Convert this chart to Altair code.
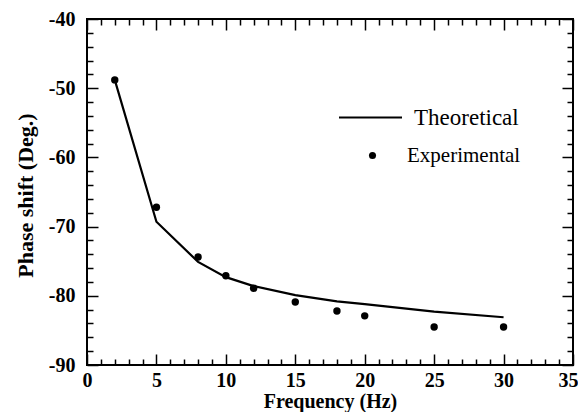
import altair as alt
import pandas as pd

# Data
freq_theo = [2, 5, 8, 10, 12, 15, 18, 20, 25, 30]
phase_theo = [-48.8, -69.3, -75.1, -77.3, -78.6, -79.9, -80.8, -81.2, -82.3, -83.1]
freq_exp = [2, 5, 8, 10, 12, 15, 18, 20, 25, 30]
phase_exp = [-48.8, -67.2, -74.4, -77.1, -78.9, -80.9, -82.2, -82.9, -84.5, -84.5]
series_names = ["Theoretical", "Experimental"]

x_ticks = list(range(0, 36))          # minor every 1, major every 5
y_ticks = list(range(-90, -39, 2))    # minor every 2, major every 10

theo = pd.DataFrame({"f": freq_theo, "p": phase_theo, "series": series_names[0]})
exp = pd.DataFrame({"f": freq_exp, "p": phase_exp, "series": series_names[1]})

FONT = "Liberation Serif"
xscale = alt.Scale(domain=[0, 35], nice=False)
yscale = alt.Scale(domain=[-90, -40], nice=False)

x_major = "datum.value % 5 === 0"
y_major = "datum.value % 10 === 0"


def tsize(test):
    return {"condition": {"test": test, "value": -11}, "value": -6}


common = dict(
    domain=False,
    grid=False,
    tickColor="black",
    tickWidth=1.5,
    labelFont=FONT,
    labelFontSize=20,
    labelFontWeight="bold",
    labelColor="black",
    labelFlush=False,
    labelOverlap=False,
    titleFont=FONT,
    titleFontSize=21,
    titleFontWeight="bold",
    titleColor="black",
)

bottom_common = dict(common)
bottom_common["titleFontSize"] = 20
bottom_axis = alt.Axis(
    orient="bottom", values=x_ticks, tickSize=tsize(x_major),
    labelExpr=f"{x_major} ? ('' + datum.value) : ''", labelPadding=16,
    labelOffset={"condition": {"test": "datum.value === 35", "value": -5}, "value": 0},
    title="Frequency (Hz)", titleX=243, titleY=42, titleBaseline="alphabetic",
    **bottom_common,
)
top_axis = alt.Axis(
    orient="top", values=x_ticks, tickSize=tsize(x_major), labels=False,
    title=None, **common,
)
left_common = dict(common)
left_common["titleFontSize"] = 22
left_axis = alt.Axis(
    orient="left", values=y_ticks, tickSize=tsize(y_major),
    labelExpr=f"{y_major} ? ('' + datum.value) : ''", labelPadding=23,
    title="Phase shift (Deg.)", titleX=-55, titleY=176, titleBaseline="alphabetic",
    **left_common,
)
right_axis = alt.Axis(
    orient="right", values=y_ticks, tickSize=tsize(y_major), labels=False,
    title=None, **common,
)

line = alt.Chart(theo).mark_line(strokeWidth=2.2).encode(
    x=alt.X("f:Q", scale=xscale, axis=bottom_axis),
    y=alt.Y("p:Q", scale=yscale, axis=left_axis),
    color=alt.Color(
        "series:N",
        scale=alt.Scale(domain=[series_names[0]], range=["black"]),
        legend=alt.Legend(
            orient="none", legendX=251, legendY=66, title=None, padding=0,
            symbolType="stroke", symbolSize=3969, symbolStrokeWidth=2,
            labelOffset=11, labelFont=FONT, labelFontSize=23, labelColor="black",
        ),
    ),
)

points = alt.Chart(exp).mark_point(filled=True, size=55, opacity=1, color="black").encode(
    x=alt.X("f:Q", scale=xscale, axis=top_axis),
    y=alt.Y("p:Q", scale=yscale, axis=right_axis),
    shape=alt.Shape(
        "series:N",
        scale=alt.Scale(domain=[series_names[1]], range=["circle"]),
        legend=alt.Legend(
            orient="none", legendX=275, legendY=126, title=None, padding=0,
            symbolSize=50, symbolFillColor="black", symbolStrokeColor="black",
            symbolStrokeWidth=0,
            labelOffset=24, labelFont=FONT, labelFontSize=21, labelColor="black",
        ),
    ),
)

chart = (
    alt.layer(line, points)
    .resolve_axis(x="independent", y="independent")
    .properties(
        width=486,
        height=346,
        padding={"left": 79, "top": 11, "right": 5, "bottom": 47},
        autosize=alt.AutoSizeParams(type="none"),
        background="white",
    )
    .configure_view(stroke="black", strokeWidth=2)
)

chart.save("out.html", embed_options={"renderer": "svg", "actions": False})
